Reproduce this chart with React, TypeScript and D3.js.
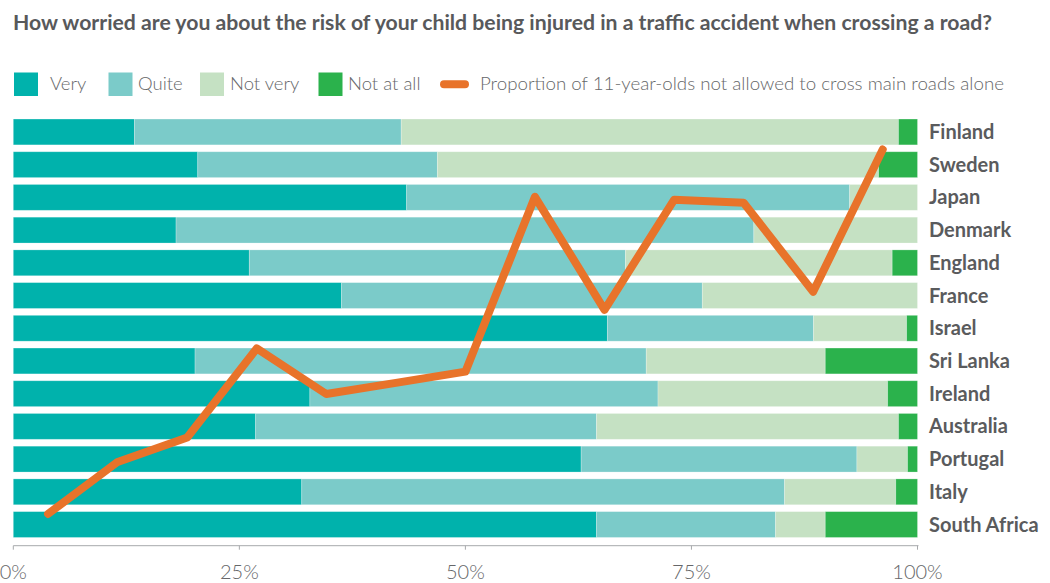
import React from "react";
import * as d3 from "d3";

const countries = ["Finland","Sweden","Japan","Denmark","England","France","Israel","Sri Lanka","Ireland","Australia","Portugal","Italy","South Africa"];
const very =     [13.4, 20.4, 43.5, 18.0, 26.1, 36.3, 65.7, 20.1, 32.8, 26.8, 62.8, 31.9, 64.5];
const quite =    [29.5, 26.5, 49.0, 63.9, 41.6, 39.9, 22.8, 49.9, 38.5, 37.7, 30.5, 53.4, 19.8];
const notVery =  [55.0, 48.8,  7.5, 18.1, 29.5, 23.8, 10.3, 19.8, 25.4, 33.4,  5.6, 12.3,  5.5];
const notAtAll = [ 2.1,  4.3,  0.0,  0.0,  2.8,  0.0,  1.2, 10.2,  3.3,  2.1,  1.1,  2.4, 10.2];

const lineCountries = ["South Africa","Italy","Portugal","Australia","Ireland","Sri Lanka","Israel","France","England","Denmark","Japan","Sweden","Finland"];
const notAllowed = [7.4, 19.5, 25.2, 45.9, 35.3, 37.9, 40.5, 81.2, 54.9, 80.5, 79.8, 59.1, 92.2];

const seriesNames = ["Very","Quite","Not very","Not at all"];
const seriesColors = ["#00B2AC","#7BCBC9","#C5E1C3","#2BB24C"];
const lineName = "Proportion of 11-year-olds not allowed to cross main roads alone";
const lineColor = "#E8732A";
const title = "How worried are you about the risk of your child being injured in a traffic accident when crossing a road?";
const ticks = [0, 25, 50, 75, 100];

export default function App() {
  const W = 1050, H = 583;
  const x = d3.scaleLinear().domain([0, 100]).range([13.3, 917.5]);
  const y = d3.scaleBand<string>().domain(countries).range([115.6, 540.9]).paddingInner(0.21).paddingOuter(0.105);
  const xl = d3.scaleBand<string>().domain(lineCountries).range([13.3, 917.5]);
  const yl = d3.scaleLinear().domain([0, 100]).range([545.7, 116]);

  const rows = countries.map((c, i) => ({ c, Very: very[i], Quite: quite[i], "Not very": notVery[i], "Not at all": notAtAll[i] }));
  const stack = d3.stack<any>().keys(seriesNames)(rows);

  const line = d3.line<number>()
    .x((_, i) => (xl(lineCountries[i]) as number) + xl.bandwidth() / 2)
    .y((v) => yl(v));

  const legendItems = [
    { name: "Very", sx: 14, tx: 50 },
    { name: "Quite", sx: 108.5, tx: 138 },
    { name: "Not very", sx: 200, tx: 230 },
    { name: "Not at all", sx: 318.5, tx: 348 },
  ];

  const axisY = 545.7;

  return (
    <svg width={W} height={H} style={{ position: "absolute", left: 0, top: 0, background: "#fff" }}>
      <text x={13} y={30} fontFamily="Lato, 'Open Sans', sans-serif" fontWeight={700} fontSize={20.5} fill="#58595B" textLength={979} lengthAdjust="spacingAndGlyphs">{title}</text>

      {legendItems.map((it, i) => (
        <g key={it.name}>
          <rect x={it.sx} y={72.5} width={24} height={23.5} fill={seriesColors[i]} />
          <text x={it.tx} y={89.5} fontFamily="Lato, sans-serif" fontWeight={300} fontSize={18.5} fill="#666769">{it.name}</text>
        </g>
      ))}
      <line x1={444} x2={465} y1={84.3} y2={84.3} stroke={lineColor} strokeWidth={8} strokeLinecap="round" />
      <text x={480} y={89.5} fontFamily="Lato, sans-serif" fontWeight={300} fontSize={18.5} fill="#666769" textLength={524} lengthAdjust="spacingAndGlyphs">{lineName}</text>

      {stack.map((s, si) => (
        <g key={s.key} fill={seriesColors[si]}>
          {s.map((d: any, i: number) => {
            const w = x(d[1]) - x(d[0]);
            if (w <= 0) return null;
            return (
              <rect key={i} x={x(d[0])} y={y(countries[i])} width={w} height={y.bandwidth()}
                stroke="#ffffff" strokeOpacity={0.3} strokeWidth={0.8} />
            );
          })}
        </g>
      ))}

      {countries.map((c) => (
        <text key={c} x={929} y={(y(c) as number) + y.bandwidth() / 2 + 7} fontFamily="Lato, sans-serif" fontWeight={700} fontSize={20} fill="#5A5B5D">{c}</text>
      ))}

      <path d={line(notAllowed) || ""} fill="none" stroke={lineColor} strokeWidth={8} strokeLinejoin="round" strokeLinecap="round" />

      <line x1={x(0)} x2={x(100) + 1} y1={axisY} y2={axisY} stroke="#A7A9AC" strokeWidth={1} />
      {ticks.map((t) => (
        <g key={t}>
          <line x1={x(t)} x2={x(t)} y1={axisY} y2={axisY + 4} stroke="#A7A9AC" strokeWidth={1} />
          <text x={x(t)} y={579} textAnchor="middle" fontFamily="Lato, sans-serif" fontWeight={300} fontSize={20} fill="#666769">{t + "%"}</text>
        </g>
      ))}
    </svg>
  );
}
